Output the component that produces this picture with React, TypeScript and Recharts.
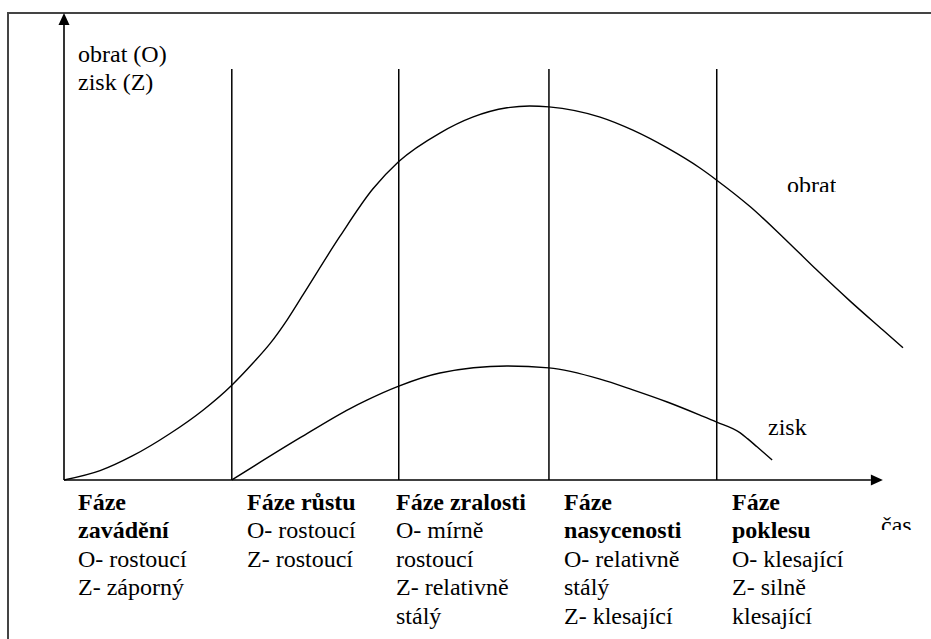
import { LineChart, Line, XAxis, YAxis, ReferenceLine } from 'recharts'

// obrat (turnover) curve: time t and value v
const obratCas = [0, 4.3, 8.2, 12.6, 16.6, 20.0, 22.5, 24.6, 26.6, 28.5, 32.9, 36.8, 39.9, 44.8, 48.7, 52.8, 55.5, 57.8, 63.9, 67.8, 71.9, 75.8, 77.8, 81.8, 85.7, 89.7, 93.7, 97.6, 100]
const obratHodnota = [0, 2.0, 5.2, 9.9, 15.0, 20.3, 25.0, 29.3, 34.3, 39.7, 52.2, 62.3, 68.2, 74.3, 77.7, 79.7, 80.1, 79.9, 77.7, 74.9, 71.1, 66.8, 64.2, 58.5, 52.0, 45.0, 38.3, 32.1, 28.3]

// zisk (profit) curve
const ziskCas = [20.0, 28.1, 34.1, 36.1, 39.9, 44.8, 52.8, 57.8, 63.9, 67.8, 71.9, 75.8, 77.8, 80.6, 81.5, 82.6, 84.4]
const ziskHodnota = [0, 9.0, 15.3, 17.1, 20.1, 22.9, 24.4, 24.0, 21.6, 19.3, 16.7, 13.9, 12.4, 10.1, 8.8, 7.1, 4.3]

// phase borders on the time axis, and their height
const hraniceFazi = [20.0, 39.9, 57.8, 77.8]
const vyskaHranic = 88
const konecOsyX = 97.6

const fazeNazvy = [
  ['Fáze', 'zavádění'],
  ['Fáze růstu'],
  ['Fáze zralosti'],
  ['Fáze', 'nasycenosti'],
  ['Fáze', 'poklesu'],
]
const fazePopisy = [
  ['O- rostoucí', 'Z- záporný'],
  ['O- rostoucí', 'Z- rostoucí'],
  ['O- mírně', 'rostoucí', 'Z- relativně', 'stálý'],
  ['O- relativně', 'stálý', 'Z- klesající'],
  ['O- klesající', 'Z- silně', 'klesající'],
]
const fazeLeft = [78, 247, 396, 564, 732]

const obratData = obratCas.map((t, i) => ({ t, v: obratHodnota[i] }))
const ziskData = ziskCas.map((t, i) => ({ t, v: ziskHodnota[i] }))

const font = '"Liberation Serif", "DejaVu Serif", Tinos, serif'

const ArrowLine = (props: any) => {
  const { x1, y1, x2, y2 } = props
  const dx = x2 - x1
  const dy = y2 - y1
  const len = Math.sqrt(dx * dx + dy * dy) || 1
  const ux = dx / len
  const uy = dy / len
  const head = 12
  const half = 5.5
  const bx = x2 - ux * head
  const by = y2 - uy * head
  const pts = `${x2},${y2} ${bx - uy * half},${by + ux * half} ${bx + uy * half},${by - ux * half}`
  return (
    <g>
      <line x1={x1} y1={y1} x2={bx} y2={by} stroke="#000" strokeWidth={1.6} />
      <polygon points={pts} fill="#000" />
    </g>
  )
}

const textStyle = {
  position: 'absolute' as const,
  fontFamily: font,
  fontSize: 24,
  lineHeight: '28.4px',
  color: '#000',
  whiteSpace: 'nowrap' as const,
}

export default function App() {
  return (
    <div style={{ position: 'absolute', left: 0, top: 0, width: 931, height: 639, background: '#fff', overflow: 'hidden' }}>
      <div
        style={{
          position: 'absolute',
          left: 7,
          top: 12,
          width: 930,
          height: 640,
          borderTop: '2px solid #444',
          borderLeft: '2px solid #444',
        }}
      />
      <div style={{ position: 'absolute', left: 0, top: 0 }}>
        <LineChart width={931} height={639} margin={{ top: 13, right: 28, left: 64, bottom: 159 }}>
          <XAxis type="number" dataKey="t" domain={[0, 100]} hide />
          <YAxis type="number" dataKey="v" domain={[0, 100]} hide />
          {hraniceFazi.map((x) => (
            <ReferenceLine
              key={x}
              segment={[{ x, y: 0 }, { x, y: vyskaHranic }]}
              stroke="#000"
              strokeWidth={1.5}
            />
          ))}
          <ReferenceLine segment={[{ x: 0, y: 0 }, { x: konecOsyX, y: 0 }]} shape={ArrowLine} />
          <ReferenceLine segment={[{ x: 0, y: 0 }, { x: 0, y: 100 }]} shape={ArrowLine} />
          <Line
            data={obratData}
            dataKey="v"
            type="monotone"
            stroke="#000"
            strokeWidth={1.4}
            dot={false}
            isAnimationActive={false}
          />
          <Line
            data={ziskData}
            dataKey="v"
            type="monotone"
            stroke="#000"
            strokeWidth={1.4}
            dot={false}
            isAnimationActive={false}
          />
        </LineChart>
      </div>

      <div style={{ ...textStyle, left: 78, top: 40 }}>
        obrat (O)
        <br />
        zisk (Z)
      </div>
      <div style={{ ...textStyle, left: 787, top: 171, height: 21, overflow: 'hidden' }}>obrat</div>
      <div style={{ ...textStyle, left: 768, top: 413 }}>zisk</div>
      <div style={{ ...textStyle, left: 881, top: 511, height: 19, overflow: 'hidden' }}>čas</div>

      {fazeNazvy.map((nazev, i) => (
        <div key={i} style={{ ...textStyle, left: fazeLeft[i], top: 488 }}>
          {nazev.map((r) => (
            <div key={r} style={{ fontWeight: 'bold' }}>
              {r}
            </div>
          ))}
          {fazePopisy[i].map((r) => (
            <div key={r}>{r}</div>
          ))}
        </div>
      ))}
    </div>
  )
}
